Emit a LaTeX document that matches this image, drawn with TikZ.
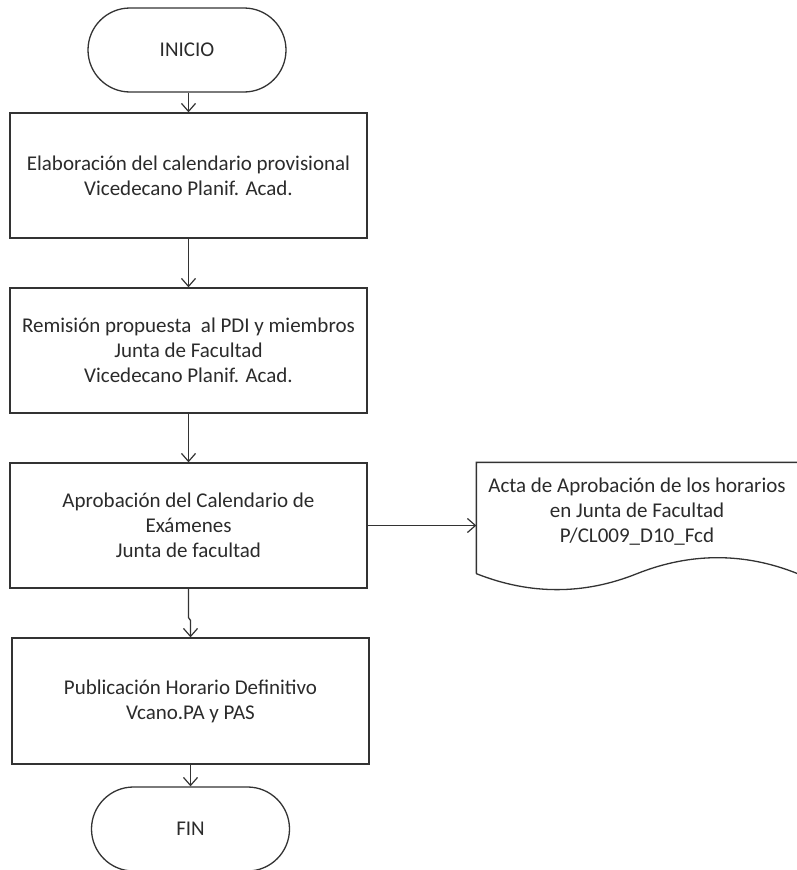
\documentclass[tikz,border=0pt]{standalone}
\usepackage{fontspec}
\setmainfont{Carlito}
\usetikzlibrary{arrows.meta,calc}
\definecolor{ln}{HTML}{333333}
\definecolor{tx}{HTML}{2B2B2B}
\tikzset{
  lbl/.style={font=\fontsize{21}{25}\selectfont, text=tx, align=center},
  term/.style={lbl, draw=ln, rectangle, rounded corners=42pt, minimum width=198pt, minimum height=84pt},
  proc/.style={lbl, draw=ln, rectangle, minimum width=357pt, minimum height=125pt},
  arr/.style={draw=ln, -{Straight Barb[length=8pt,width=14pt,line width=1.2pt]}}
}
\begin{document}
\begin{tikzpicture}[x=1pt,y=-1pt,line width=1.3pt]
\useasboundingbox (0,0) rectangle (796,870);
\fill[white] (0,0) rectangle (796,870);

\node[term] (ini) at (187,50) {INICIO};
\node[proc] (b1) at (188.5,175.5) {Elaboración del calendario provisional\\Vicedecano Planif. Acad.};
\node[proc] (b2) at (188.5,350.5) {Remisión propuesta\ \ al PDI y miembros\\Junta de Facultad\\Vicedecano Planif. Acad.};
\node[proc] (b3) at (188.5,525.5) {Aprobación del Calendario de\\Exámenes\\Junta de facultad};
\node[proc, minimum height=126pt] (b4) at (190.5,701) {Publicación Horario Definitivo\\Vcano.PA y PAS};
\node[term] (fin) at (190.5,829) {FIN};

\node[minimum width=320pt, minimum height=110pt, inner sep=0pt] (doc) at (637,518) {};
\draw[ln] (doc.south west) -- (doc.north west) -- (doc.north east) -- (doc.south east)
  .. controls ($(doc.south east)+(-53,-21.3)$) and ($(doc.south east)+(-107,-21.3)$) .. (doc.south)
  .. controls ($(doc.south)+(-53,21.3)$) and ($(doc.south)+(-107,21.3)$) .. (doc.south west);
\node[lbl] (doct) at (637,512) {Acta de Aprobación de los horarios\\en Junta de Facultad\\P/CL009\_D10\_Fcd};

\draw[arr] (ini.south -| b1.north) -- (b1.north);
\draw[arr] (b1.south) -- (b1.south |- b2.north);
\draw[arr] (b2.south) -- (b2.south |- b3.north);
\draw[arr] (b3.south) -- ++(0,29) -- ($(b4.north)+(0,-17)$) -- (b4.north);
\draw[arr] (b4.south) -- (b4.south |- fin.north);
\draw[arr] (b3.east) -- (b3.east -| doc.west);
\end{tikzpicture}
\end{document}
